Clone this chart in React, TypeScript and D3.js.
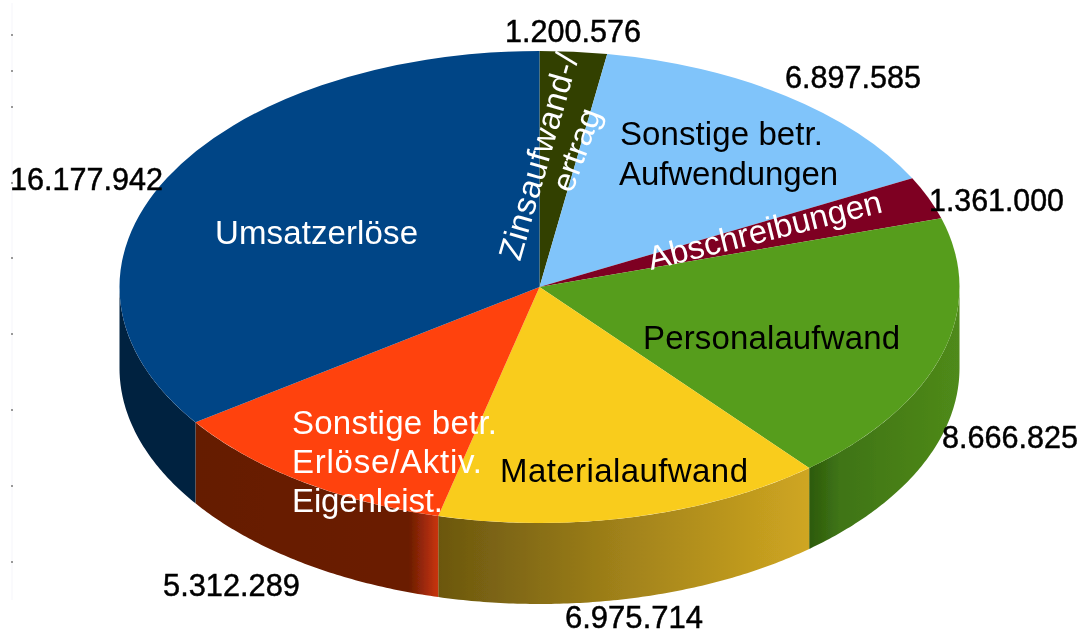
import React from 'react';
import * as d3 from 'd3';

// values in slice order, clockwise from 12 o'clock
const names = ['Zinsaufwand-/ertrag', 'Sonstige betr. Aufwendungen', 'Abschreibungen', 'Personalaufwand', 'Materialaufwand', 'Sonstige betr. Erlöse/Aktiv. Eigenleist.', 'Umsatzerlöse'];
const values = [1200576, 6897585, 1361000, 8666825, 6975714, 5312289, 16177942];
const valueLabels = ['1.200.576', '6.897.585', '1.361.000', '8.666.825', '6.975.714', '5.312.289', '16.177.942'];
const topColors = ['#314004', '#80c4fa', '#7e0021', '#579d1c', '#f9cc1f', '#ff420e', '#004586'];

const width = 1084;
const height = 635;
const cx = 539.5;
const cy = 287;
const rx = 420;
const ry = 236;
const depth = 81;

// leftovers of a cropped axis in the scan, down the left margin
const strayDots = [35, 71, 107, 183, 258, 334, 410, 486, 562];

// wall shading, left to right
const wallStops: Record<number, [number, string][]> = {
  3: [[0, '#2c5a0e'], [0.2, '#3f7414'], [1, '#4f8a1a']],
  4: [[0, '#6b570f'], [0.5, '#a1821a'], [1, '#cfa621']],
  5: [[0, '#651c05'], [0.88, '#6b1d04'], [1, '#c9340c']],
  6: [[0, '#02203f'], [1, '#02203f']],
};

// text layout: [slice, left, baseline, width]
const valueSpots: [number, number, number, number][] = [
  [0, 505, 42, 136],
  [1, 785, 88, 136],
  [2, 929, 211, 135],
  [3, 942, 448, 136],
  [4, 565, 628, 138],
  [5, 163, 596, 137],
  [6, 10, 190, 153],
];
const flatLabels: [string, number, number, number, string][] = [
  ['Umsatzerlöse', 215, 244, 203, '#fff'],
  ['Sonstige betr.', 620, 145, 203, '#000'],
  ['Aufwendungen', 619, 185, 219, '#000'],
  ['Personalaufwand', 643, 349, 257, '#000'],
  ['Materialaufwand', 500, 482, 248, '#000'],
  ['Sonstige betr.', 292, 434, 205, '#fff'],
  ['Erlöse/Aktiv.', 292, 473, 190, '#fff'],
  ['Eigenleist.', 292, 512, 151, '#fff'],
];
const tiltedLabels: [string, number, number, number, number][] = [
  ['Zinsaufwand-/', 520, 262, 213, -74],
  ['ertrag', 572, 194, 86, -70],
  ['Abschreibungen', 651, 270, 240, -14],
];

const pie = d3.pie<number>().sort(null).value((d) => d);
const arcs = pie(values);
const topArc = d3.arc<d3.PieArcDatum<number>>().innerRadius(0).outerRadius(rx);

// only the front half of the cylinder shows a wall
const wallPath = (a0: number, a1: number) => {
  const from = Math.max(a0, Math.PI / 2);
  const to = Math.min(a1, (3 * Math.PI) / 2);
  if (to <= from) return null;
  const angles = d3.range(from, to, 0.01).concat(to);
  return d3.area<number>()
    .x((a) => cx + rx * Math.sin(a))
    .y0((a) => cy - ry * Math.cos(a))
    .y1((a) => cy - ry * Math.cos(a) + depth)(angles);
};

const labelFont = { fontFamily: '"Liberation Sans", Arial, sans-serif', fontSize: 33 };
const valueFont = { fontFamily: '"Liberation Sans", Arial, sans-serif', fontSize: 32 };

export default function App() {
  return (
    <svg width={width} height={height} style={{ position: 'absolute', left: 0, top: 0, background: '#fff' }}>
      <defs>
        <filter id="soft" x="-5%" y="-5%" width="110%" height="110%">
          <feGaussianBlur stdDeviation="0.6" />
        </filter>
        {arcs.map((d, i) => {
          const stops = wallStops[i];
          if (!stops) return null;
          const from = Math.max(d.startAngle, Math.PI / 2);
          const to = Math.min(d.endAngle, (3 * Math.PI) / 2);
          const xs = [cx + rx * Math.sin(from), cx + rx * Math.sin(to)];
          return (
            <linearGradient key={i} id={`wall${i}`} gradientUnits="userSpaceOnUse" x1={d3.min(xs)} x2={d3.max(xs)} y1={0} y2={0}>
              {stops.map(([o, c]) => <stop key={o} offset={o} stopColor={c} />)}
            </linearGradient>
          );
        })}
      </defs>
      <line x1={12} x2={12} y1={3} y2={600} stroke="#f5f5fa" />
      {strayDots.map((y) => (
        <rect key={y} x={11} y={y - 1} width={2} height={2} fill="#999" />
      ))}
      <g filter="url(#soft)">
        {arcs.map((d, i) => {
          const p = wallPath(d.startAngle, d.endAngle);
          return p ? <path key={i} d={p} fill={`url(#wall${i})`} /> : null;
        })}
        <g transform={`translate(${cx},${cy}) scale(1,${ry / rx})`}>
          {arcs.map((d, i) => (
            <path key={names[i]} d={topArc(d) as string} fill={topColors[i]} />
          ))}
        </g>
        {valueSpots.map(([i, x, y, w]) => (
          <text key={i} x={x} y={y} textLength={w} lengthAdjust="spacingAndGlyphs" fill="#000" stroke="#000" strokeWidth={0.5} style={valueFont}>
            {valueLabels[i]}
          </text>
        ))}
        {flatLabels.map(([t, x, y, w, c]) => (
          <text key={t + y} x={x} y={y} textLength={w} lengthAdjust="spacing" fill={c} style={labelFont}>{t}</text>
        ))}
        {tiltedLabels.map(([t, x, y, w, r]) => (
          <text key={t} transform={`translate(${x},${y}) rotate(${r})`} textLength={w} lengthAdjust="spacing" fill="#fff" style={labelFont}>{t}</text>
        ))}
      </g>
    </svg>
  );
}
